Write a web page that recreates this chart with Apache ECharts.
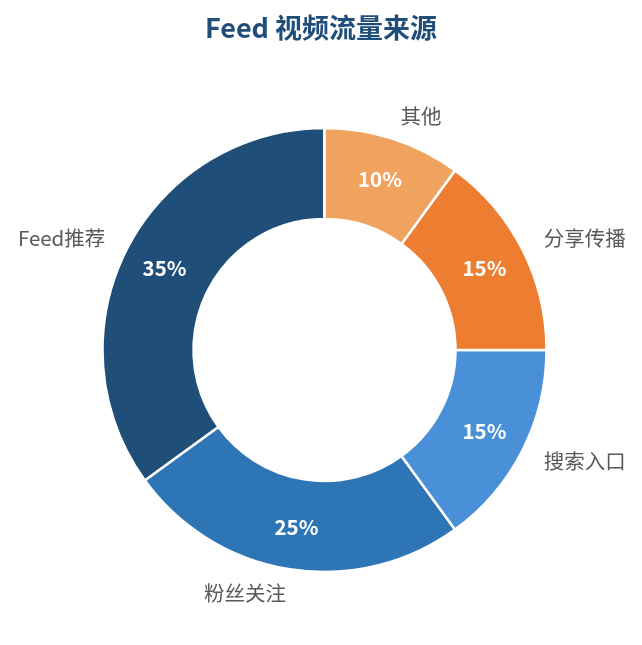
<!DOCTYPE html>
<html>
<head>
<meta charset="UTF-8">
<title>Feed 视频流量来源</title>
<style>
    html, body { margin: 0; padding: 0; background: #fff; }
    #chartArea { width: 642px; height: 645px; }
</style>
</head>
<body>
<div id="chartArea"></div>
<script src="https://cdn.jsdelivr.net/npm/echarts@6/dist/echarts.min.js"></script>
<script>
// data
var categories = ['Feed推荐', '粉丝关注', '搜索入口', '分享传播', '其他'];
var shares = [35, 25, 15, 15, 10];
var colors = ['#1F4E79', '#2E75B6', '#4A90D9', '#ED7D31', '#F0A35E'];

var pieData = categories.map(function (name, i) {
    return { name: name, value: shares[i], itemStyle: { color: colors[i] } };
});

var font = '"Noto Sans CJK SC", "Noto Sans", sans-serif';

var baseSeries = {
    type: 'pie',
    center: [324.5, 350],
    radius: [131, 222],
    startAngle: 90,
    clockwise: false,
    avoidLabelOverlap: false,
    itemStyle: { borderColor: '#fff', borderWidth: 2.5 },
    emphasis: { disabled: true },
    data: pieData
};

var myChart = echarts.init(document.getElementById('chartArea'));
myChart.setOption({
    animation: false,
    title: {
        text: 'Feed 视频流量来源',
        left: 'center',
        top: 9,
        textStyle: { fontFamily: font, fontSize: 27, fontWeight: 'bold', color: '#1F4E79' }
    },
    series: [
        Object.assign({}, baseSeries, {
            label: {
                show: true,
                position: 'outside',
                formatter: '{b}',
                fontFamily: font,
                fontSize: 20.5,
                color: '#595959',
                distanceToLabelLine: 0
            },
            labelLine: { show: false, length: 24, length2: 0 }
        }),
        Object.assign({}, baseSeries, {
            silent: true,
            label: {
                show: true,
                position: 'inside',
                formatter: '{c}%',
                fontFamily: font,
                fontSize: 20.5,
                fontWeight: 'bold',
                color: '#fff'
            },
            labelLine: { show: false }
        })
    ]
});
</script>
</body>
</html>
